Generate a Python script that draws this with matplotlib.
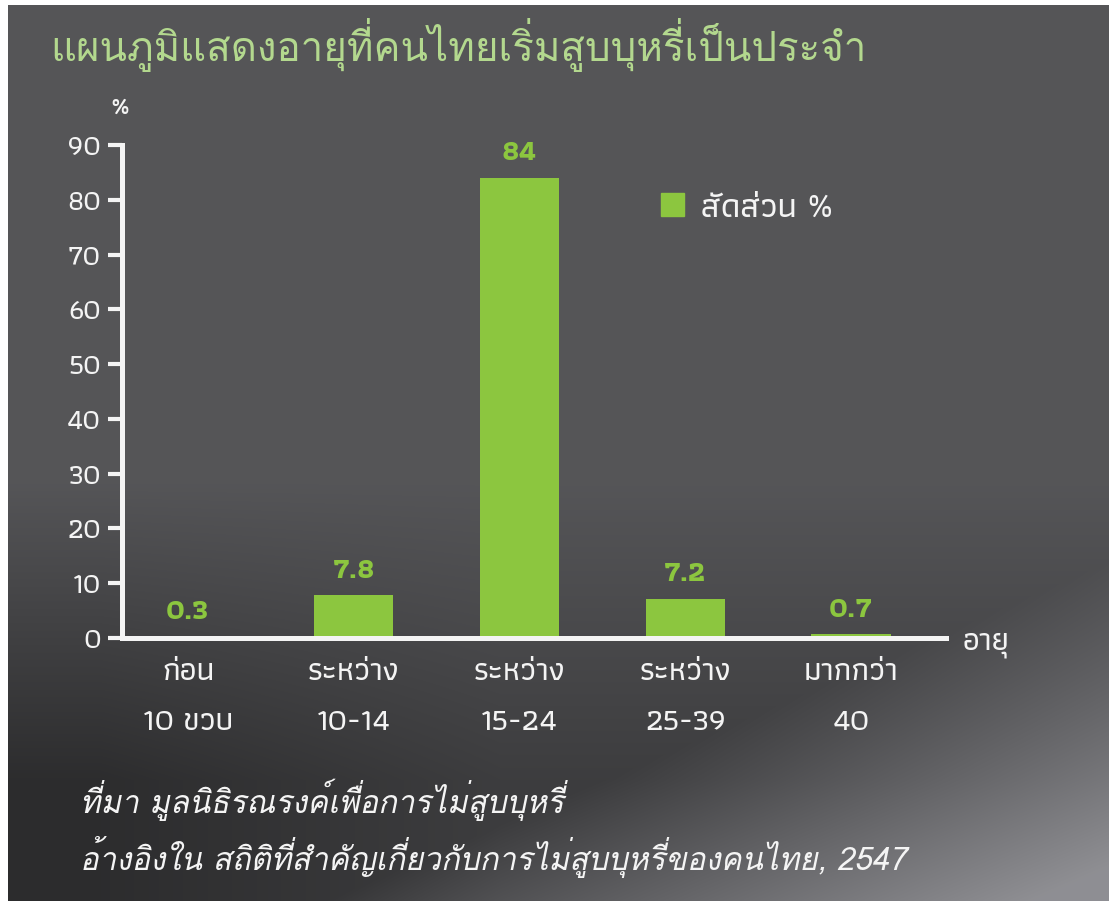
import numpy as np
import matplotlib
matplotlib.use("Agg")
import matplotlib.pyplot as plt
from matplotlib.patches import Patch

plt.rcParams['font.family'] = ['Athiti', 'DejaVu Sans']
# Loma วางวรรณยุกต์บนสระบนได้ถูกต้อง ใช้กับข้อความที่มี "ี่" "ิ่" "ื่"
stacked_font = ['Loma', 'DejaVu Sans']

# ข้อมูล
title = "แผนภูมิแสดงอายุที่คนไทยเริ่มสูบบุหรี่เป็นประจำ"
categories = ["ก่อน\n10 ขวบ", "ระหว่าง\n10-14", "ระหว่าง\n15-24", "ระหว่าง\n25-39", "มากกว่า\n40"]
values = [0.3, 7.8, 84, 7.2, 0.7]
value_labels = ["0.3", "7.8", "84", "7.2", "0.7"]
yticks = [0, 10, 20, 30, 40, 50, 60, 70, 80, 90]
series_name = "สัดส่วน %"
source_lines = ["ที่มา มูลนิธิรณรงค์เพื่อการไม่สูบบุหรี่",
                "อ้างอิงใน สถิติที่สำคัญเกี่ยวกับการไม่สูบบุหรี่ของคนไทย, 2547"]

green = "#8cc63f"
title_green = "#b3d88e"
white = "#f4f4f4"

W, H = 1109, 901
fig = plt.figure(figsize=(W / 100, H / 100), dpi=100)

# พื้นหลังไล่เฉดสีเทา
yy, xx = np.mgrid[0:H, 0:W].astype(float)
dark = np.clip((yy - 480) / 300, 0, 1) * (0.6 + 0.4 * np.clip((500 - xx) / 400, 0, 1))
s = (xx - 600) * 0.397 + (yy - 880) * 0.918
light = np.clip((s + 90) / 280, 0, 1)
val = (0.335 - 0.16 * dark) * (1 - light) + 0.56 * light
img = np.dstack([val, val, np.clip(val * 1.03, 0, 1)])
img[:5, :, :] = 1
img[:, :8, :] = 1
bg = fig.add_axes([0, 0, 1, 1], zorder=-1)
bg.imshow(img, aspect="auto", interpolation="bilinear")
bg.axis("off")

# แกนหลัก
ax = fig.add_axes([122 / W, 1 - 638 / H, (946 - 122) / W, (638 - 145) / H])
ax.patch.set_alpha(0)
x = np.arange(len(values))
ax.bar(x, values, width=0.477, color=green, zorder=2)
for xi, v, lab in zip(x, values, value_labels):
    ax.annotate(lab, (xi, v), xytext=(0, 9), textcoords="offset points",
                ha="center", va="bottom", color=green, fontsize=21, fontweight="bold")

ax.set_xlim(-0.398, 4.573)
ax.set_ylim(0, 90)
ax.set_yticks(yticks)
ax.set_xticks(x)
ax.set_xticklabels(categories, linespacing=2.1)
ax.tick_params(axis="y", colors=white, length=10, width=3, direction="out", pad=5,
               labelsize=21)
ax.tick_params(axis="x", colors=white, length=0, pad=15, labelsize=23)
for lab in ax.get_yticklabels() + ax.get_xticklabels():
    lab.set_fontweight(500)
for side in ["top", "right"]:
    ax.spines[side].set_visible(False)
for side in ["left", "bottom"]:
    ax.spines[side].set_color(white)
    ax.spines[side].set_linewidth(3.6)
    ax.spines[side].set_zorder(3)

ax.legend(handles=[Patch(color=green, label=series_name)], frameon=False,
          loc="upper left", bbox_to_anchor=(661 / W, 1 - 193 / H),
          bbox_transform=fig.transFigure, handlelength=0.65, handleheight=0.65,
          handletextpad=0.5, borderpad=0, borderaxespad=0,
          labelcolor=white, prop={"weight": 500, "size": 25})

fig.text(120 / W, 1 - 108 / H, "%", color=white, fontsize=18, ha="center", va="center",
         fontweight=600)
fig.text(963 / W, 1 - 644 / H, "อายุ", color=white, fontsize=23, ha="left", va="center",
         fontweight=500)
fig.text(50 / W, 1 - 45 / H, title, color=title_green, fontsize=29, ha="left",
         va="center", family=stacked_font)
for i, line in enumerate(source_lines):
    fig.text(80 / W, 1 - (800 + 57 * i) / H, line, color=white, fontsize=22.5,
             ha="left", va="center", family=stacked_font, style="italic")

fig.savefig("out.png", dpi=100)
